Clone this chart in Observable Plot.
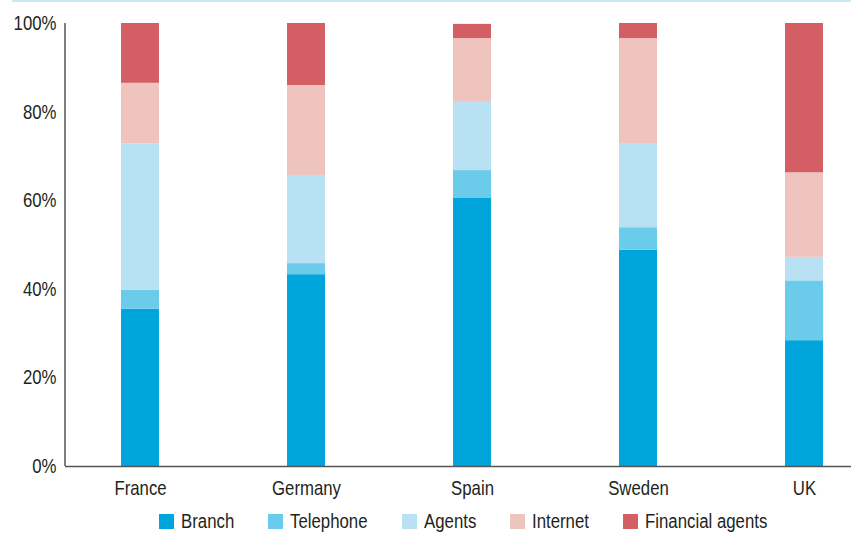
<!DOCTYPE html>
<html>
<head>
<meta charset="utf-8">
<script src="https://cdn.jsdelivr.net/npm/d3@7"></script>
<script src="https://cdn.jsdelivr.net/npm/@observablehq/plot@0.6"></script>
<style>
  html, body { margin: 0; padding: 0; background: #fff; }
  body { width: 851px; height: 533px; position: relative; overflow: hidden;
         font-family: "Liberation Sans", Arial, sans-serif; color: #231f20; }
  #topline { position: absolute; left: 12px; top: 0; width: 839px; height: 2px; background: #c6ebf7; }
  #chart svg { display: block; }
  #legend { display: flex; align-items: center; margin-top: 11px; padding-left: 159px; height: 20px; font-size: 20px; white-space: nowrap; }
  .item { display: flex; align-items: center; margin-right: 34px; }
  .sw { width: 15px; height: 15px; margin-right: 7px; flex: none; }
  .lbl { display: inline-block; transform-origin: left center; }
</style>
</head>
<body>
<div id="topline"></div>
<div id="chart"></div>
<div id="legend"></div>
<script>
// Share of distribution channels by country (%)
const countries = ["France", "Germany", "Spain", "Sweden", "UK"];
const channels = ["Branch", "Telephone", "Agents", "Internet", "Financial agents"];
const channelColors = ["#00a6db", "#6bcbeb", "#b8e2f4", "#efc3be", "#d35f64"];

const branch          = [35.5, 43.3, 60.5, 48.8, 28.4];
const telephone       = [4.3, 2.5, 6.3, 5.1, 13.5];
const agents          = [33.0, 19.9, 15.4, 19.0, 5.3];
const internet        = [13.7, 20.3, 14.4, 23.7, 19.1];
const financialAgents = [13.5, 14.0, 3.2, 3.4, 33.7];

const yTicks = [0, 20, 40, 60, 80, 100];

const series = [branch, telephone, agents, internet, financialAgents];
const rows = [];
channels.forEach((ch, i) => {
  countries.forEach((c, j) => rows.push({country: c, channel: ch, value: series[i][j]}));
});

// narrow glyphs: horizontal squeeze applied to text
const squeeze = 0.84;

const chart = Plot.plot({
  width: 851,
  height: 500,
  marginTop: 23,
  marginBottom: 34,
  marginLeft: 65,
  marginRight: 0,
  style: {fontFamily: '"Liberation Sans", Arial, sans-serif', fontSize: "20px", color: "#231f20", background: "transparent", overflow: "visible"},
  x: {domain: countries, range: [65, 879], paddingInner: 0.771, paddingOuter: 0.337, align: 0.5, label: null},
  y: {domain: [0, 100], label: null},
  color: {domain: channels, range: channelColors},
  marks: [
    Plot.barY(rows, {x: "country", y: "value", fill: "channel", order: channels}),
    Plot.axisY({ticks: yTicks, tickSize: 0, tickPadding: 9, tickFormat: d => d + "%", label: null, fill: "#231f20"}),
    Plot.axisX({tickSize: 0, tickPadding: 14, label: null, fill: "#231f20"}),
    Plot.ruleY([0], {stroke: "#555", strokeWidth: 1.5})
  ]
});

// squeeze axis labels about their anchor points
d3.select(chart).selectAll("text").each(function() {
  const t = this.getAttribute("transform") || "";
  this.setAttribute("transform", (t + ` scale(${squeeze},1)`).trim());
});

// left axis line drawn from the y scale
const ys = chart.scale("y");
d3.select(chart).append("line")
  .attr("x1", 65).attr("x2", 65)
  .attr("y1", ys.apply(0)).attr("y2", ys.apply(100))
  .attr("stroke", "#555").attr("stroke-width", 1.5);

document.getElementById("chart").appendChild(chart);

// legend
const legend = d3.select("#legend");
channels.forEach((ch, i) => {
  const item = legend.append("div").attr("class", "item");
  item.append("div").attr("class", "sw").style("background", channelColors[i]);
  item.append("span").attr("class", "lbl").text(ch);
});
legend.selectAll(".lbl").each(function() {
  const w = this.getBoundingClientRect().width;
  this.style.transform = `scaleX(${squeeze})`;
  this.style.marginRight = (-(w * (1 - squeeze))) + "px";
});
</script>
</body>
</html>
